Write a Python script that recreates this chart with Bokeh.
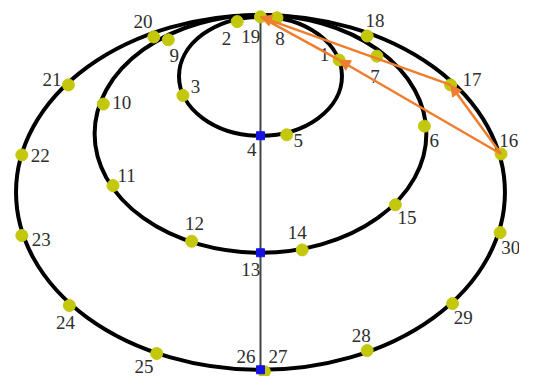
from bokeh.plotting import figure
from bokeh.models import Range1d, Arrow, NormalHead
from bokeh.core.properties import value
from bokeh.embed import file_html
from bokeh.resources import INLINE

# ellipses (center x, center y, semi-axis a, semi-axis b) in picture units
ell_cx = [268, 268, 268]
ell_cy = [79, 139, 200]
ell_a = [84, 171, 252]
ell_b = [62, 124, 185]

# numbered points
labels = [str(i) for i in range(1, 31)]
pt_x = [349, 244, 188, 268, 295, 437, 388, 285, 173, 106,
        116, 197, 268, 311, 407, 516, 464, 378, 268, 158,
        70, 22, 22, 71, 161, 268, 272, 378, 466, 515]
pt_y = [62, 22, 99, 141, 140, 131, 58, 18, 41, 108,
        193, 251, 263, 260, 213, 160, 88, 37, 17, 38,
        88, 161, 245, 318, 368, 385, 387, 365, 316, 242]
blue_points = ["4", "13", "26"]

# label offsets (layout)
lab_dx = [-15, -11, 13, -9, 12, 10, -2, 3, 6, 19,
          14, 3, -10, -5, 12, 8, 22, 8, -10, -11,
          -17, 19, 20, -4, -13, -15, 14, -6, 11, 11]
lab_dy = [-6, 18, -9, 14, 6, 15, 21, 22, 16, -2,
          -11, -19, 17, -18, 13, -14, -6, -16, 21, -16,
          -6, 1, 4, 18, 14, -14, -16, -16, 15, 16]

# orange path arrows (from label, to label, has head)
arr_from = ["16", "17", "16", "1"]
arr_to = ["17", "19", "1", "19"]
arr_head = [True, True, True, False]

W, H = 519, 376
p = figure(width=W, height=H, output_backend="svg", toolbar_location=None,
           x_range=Range1d(0, 535), y_range=Range1d(392, 0),
           min_border=0, outline_line_color=None)
p.axis.visible = False
p.grid.visible = False
p.background_fill_color = "white"

p.ellipse(x=ell_cx, y=ell_cy, width=[2 * a for a in ell_a], height=[2 * b for b in ell_b],
          fill_color=None, line_color="black", line_width=4)

i19 = labels.index("19")
i26 = labels.index("26")
p.line(x=[pt_x[i19], pt_x[i26]], y=[pt_y[i19] - 2, pt_y[i26] + 4], line_color="#444444", line_width=2)

orange = "#ef7d2e"
for f, t, h in zip(arr_from, arr_to, arr_head):
    a, b = labels.index(f), labels.index(t)
    head = NormalHead(size=11, fill_color=orange, line_color=orange) if h else None
    p.add_layout(Arrow(x_start=pt_x[a], y_start=pt_y[a], x_end=pt_x[b], y_end=pt_y[b],
                       line_color=orange, line_width=2.5, end=head))

yx = [x for x, l in zip(pt_x, labels) if l not in blue_points]
yy = [y for y, l in zip(pt_y, labels) if l not in blue_points]
bx = [x for x, l in zip(pt_x, labels) if l in blue_points]
by = [y for y, l in zip(pt_y, labels) if l in blue_points]
p.scatter(x=yx, y=yy, size=12, fill_color="#c4c80c", line_color="#c4c80c")
p.scatter(x=bx, y=by, size=8, marker="square", fill_color="#1414e6", line_color="#1414e6")

p.text(x=[x + dx for x, dx in zip(pt_x, lab_dx)], y=[y + dy for y, dy in zip(pt_y, lab_dy)],
       text=labels, text_font=value("Liberation Serif"), text_font_size="19px",
       text_color="#2e2e2e", text_align="center", text_baseline="middle")

open("out.html", "w").write(file_html(p, INLINE))
